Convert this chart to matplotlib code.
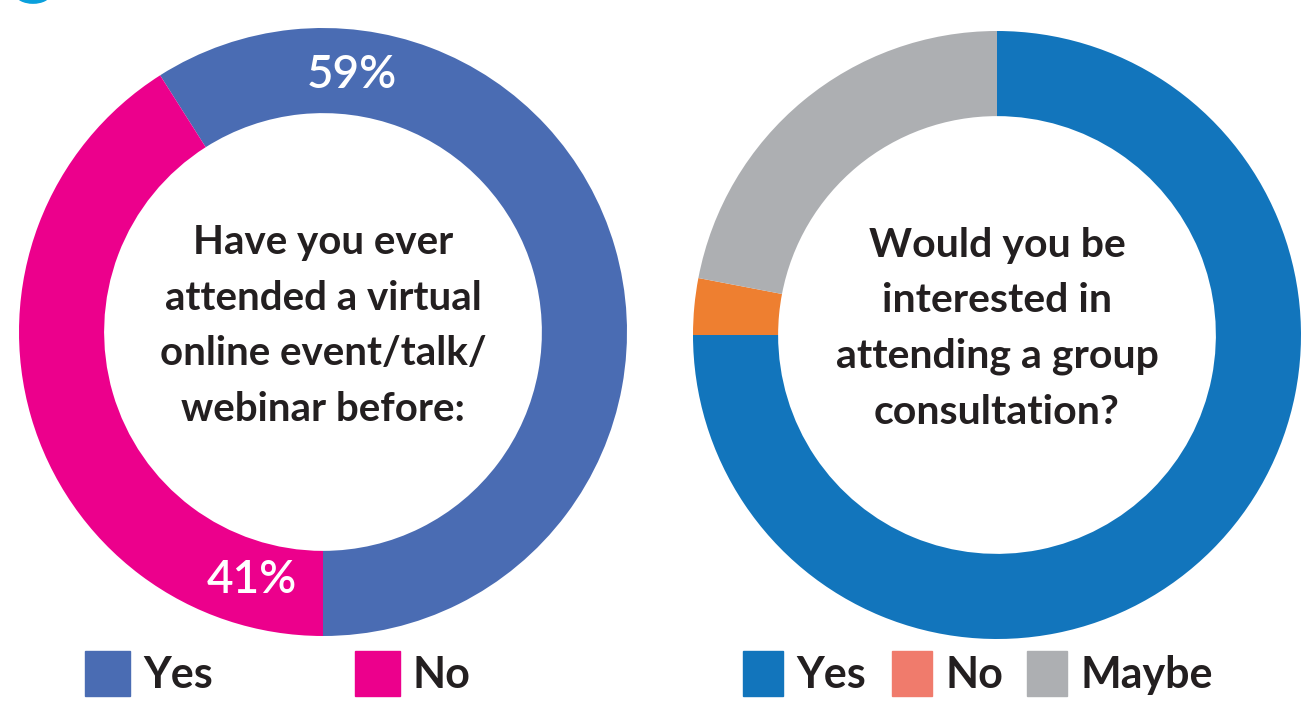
import numpy as np
import matplotlib.pyplot as plt
from matplotlib.patches import Rectangle, Circle

plt.rcParams['font.family'] = ['Lato', 'DejaVu Sans']

# left chart
left_labels = ['Yes', 'No']
left_values = [59, 41]
left_colors = ['#4a6cb3', '#ec008c']
left_question = 'Have you ever\nattended a virtual\nonline event/talk/\nwebinar before:'

# right chart
right_labels = ['Yes', 'No', 'Maybe']
right_values = [75, 3, 22]
right_colors = ['#1275bc', '#ee7f30', '#adafb2']
right_legend_colors = ['#1275bc', '#f07b6c', '#adafb2']
right_question = 'Would you be\ninterested in\nattending a group\nconsultation?'

W, H = 1303, 701
fig = plt.figure(figsize=(W / 100, H / 100), dpi=100)
ink = '#231f20'


def px_axes(cx, cy, r):
    return fig.add_axes([(cx - r) / W, (H - cy - r) / H, 2 * r / W, 2 * r / H])


# left donut: Yes starts at the bottom and runs counter-clockwise
axl = px_axes(323, 332, 304)
axl.pie(left_values, colors=left_colors, startangle=-90, counterclock=True,
        radius=1, wedgeprops=dict(width=0.28, linewidth=0))
axl.set_xlim(-1, 1)
axl.set_ylim(-1, 1)
axl.set_aspect('equal')
axl.axis('off')
axl.text(0, 0.02, left_question, ha='center', va='center', fontsize=29,
         fontweight='bold', color=ink, linespacing=1.62)
for val, ang in zip(left_values, [83.5, 254]):
    a = np.radians(ang)
    axl.text(0.85 * np.cos(a), 0.85 * np.sin(a), f'{val}%', ha='center',
             va='center', fontsize=33, color='white', fontweight='semibold')

# right donut: Yes starts at the top and runs clockwise
axr = px_axes(997, 335, 304)
axr.pie(right_values, colors=right_colors, startangle=90, counterclock=False,
        radius=1, wedgeprops=dict(width=0.28, linewidth=0))
axr.set_xlim(-1, 1)
axr.set_ylim(-1, 1)
axr.set_aspect('equal')
axr.axis('off')
axr.text(0, 0.02, right_question, ha='center', va='center', fontsize=29.5,
         fontweight='bold', color=ink, linespacing=1.62)

# legends
def legend_item(x, w, gap, color, label):
    fig.patches.append(Rectangle((x / W, (H - 696) / H), w / W, 45 / H,
                                 transform=fig.transFigure, color=color))
    fig.text((x + w + gap) / W, (H - 675) / H, label, ha='left', va='center',
             fontsize=31, fontweight='bold', color=ink)


for x, c, lab in zip([85, 355], left_colors, left_labels):
    legend_item(x, 45, 13, c, lab)
for x, c, lab in zip([743, 892, 1027], right_legend_colors, right_labels):
    legend_item(x, 40, 13, c, lab)

# partial badge in the top-left corner
fig.patches.append(Circle((33 / W, (H + 6) / H), 17 / W, transform=fig.transFigure,
                          color='#0aa0dc'))

fig.savefig('out.png', dpi=100)
